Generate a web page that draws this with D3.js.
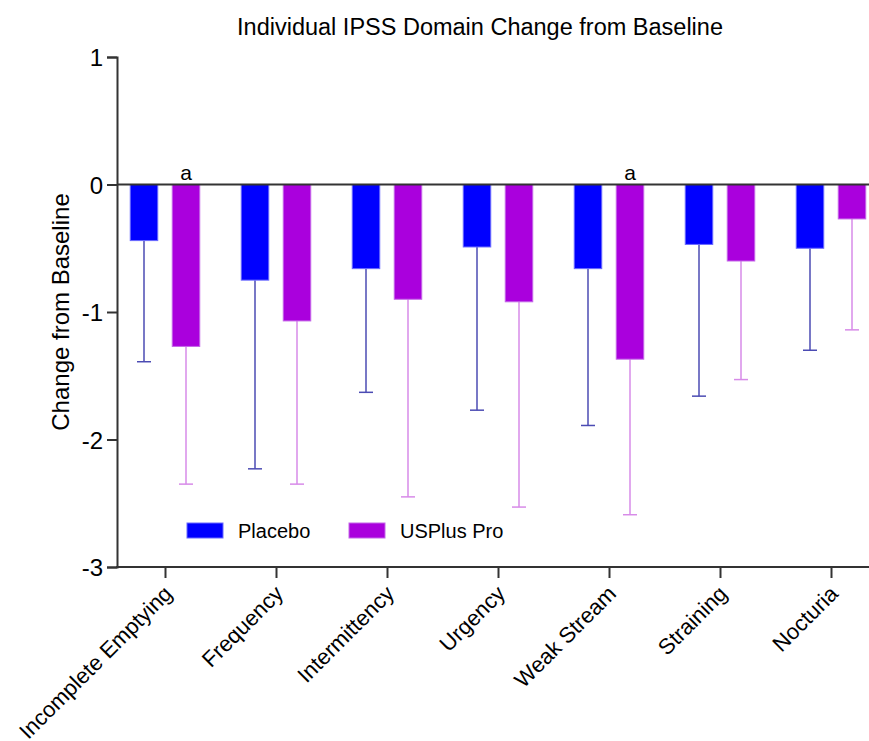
<!DOCTYPE html>
<html>
<head>
<meta charset="utf-8">
<script src="https://cdn.jsdelivr.net/npm/d3@7"></script>
<style>
  html, body { margin: 0; padding: 0; background: #fff; }
  svg text { font-family: Arial, "Liberation Sans", Helvetica, sans-serif; fill: #000; }
</style>
</head>
<body>
<svg id="chart" width="869" height="741"></svg>
<script>
// data
const domains = ["Incomplete Emptying", "Frequency", "Intermittency", "Urgency", "Weak Stream", "Straining", "Nocturia"];
const groups = ["Placebo", "USPlus Pro"];
const placeboMean = [-0.44, -0.75, -0.66, -0.49, -0.66, -0.47, -0.50];
const placeboSD   = [0.95, 1.48, 0.97, 1.28, 1.23, 1.19, 0.80];
const usplusMean  = [-1.27, -1.07, -0.90, -0.92, -1.37, -0.60, -0.27];
const usplusSD    = [1.08, 1.28, 1.55, 1.61, 1.22, 0.93, 0.87];
const signif      = ["a", "", "", "", "a", "", ""]; // marks over USPlus bars
const yTicks = [1, 0, -1, -2, -3];

const fill = { "Placebo": "#0000ff", "USPlus Pro": "#aa00dd" };
const errCol = { "Placebo": "#4b4bb3", "USPlus Pro": "#d78be8" };
const edge = { "Placebo": "#6a6aff", "USPlus Pro": "#c466e8" };

const svg = d3.select("#chart");
const mLeft = 117, mRight = 869, mTop = 57, mBottom = 567;

const y = d3.scaleLinear().domain([-3, 1]).range([mBottom, mTop]);
const x = d3.scalePoint().domain(domains).range([165, 831]);
const barW = 27.5, off = 21;

const rows = domains.map((d, i) => ({
  domain: d,
  vals: [
    { g: "Placebo", m: placeboMean[i], sd: placeboSD[i], dx: -off },
    { g: "USPlus Pro", m: usplusMean[i], sd: usplusSD[i], dx: off }
  ],
  sig: signif[i]
}));

// title
svg.append("text")
  .attr("x", 480).attr("y", 35)
  .attr("text-anchor", "middle")
  .style("font-size", "23.5px")
  .text("Individual IPSS Domain Change from Baseline");

// y axis label
svg.append("text")
  .attr("transform", "translate(69," + y(-1) + ") rotate(-90)")
  .attr("text-anchor", "middle")
  .style("font-size", "24px")
  .text("Change from Baseline");

// bars + error bars
const grp = svg.append("g").selectAll("g").data(rows).join("g")
  .attr("transform", d => "translate(" + x(d.domain) + ",0)");

const bar = grp.selectAll("g.b").data(d => d.vals).join("g").attr("class", "b");

// error bar (down only)
bar.append("line")
  .attr("x1", d => d.dx).attr("x2", d => d.dx)
  .attr("y1", d => y(d.m)).attr("y2", d => y(d.m - d.sd))
  .attr("stroke", d => errCol[d.g]).attr("stroke-width", 1.5);
bar.append("line")
  .attr("x1", d => d.dx - 7).attr("x2", d => d.dx + 7)
  .attr("y1", d => y(d.m - d.sd)).attr("y2", d => y(d.m - d.sd))
  .attr("stroke", d => errCol[d.g]).attr("stroke-width", 1.5);

bar.append("rect")
  .attr("x", d => d.dx - barW / 2)
  .attr("width", barW)
  .attr("y", y(0))
  .attr("height", d => y(d.m) - y(0))
  .attr("fill", d => fill[d.g])
  .attr("stroke", d => edge[d.g]).attr("stroke-width", 1);

// significance marks
grp.filter(d => d.sig).append("text")
  .attr("x", off).attr("y", y(0) - 5)
  .attr("text-anchor", "middle")
  .style("font-size", "21px")
  .text(d => d.sig);

// zero line
svg.append("line")
  .attr("x1", mLeft).attr("x2", mRight)
  .attr("y1", y(0)).attr("y2", y(0))
  .attr("stroke", "#333").attr("stroke-width", 2);

// y axis
const yAxis = svg.append("g")
  .attr("transform", "translate(" + mLeft + ",0)")
  .call(d3.axisLeft(y).tickValues(yTicks).tickFormat(d => String(d)).tickSize(10).tickPadding(4));
yAxis.select(".domain").attr("stroke", "#333").attr("stroke-width", 2);
yAxis.selectAll(".tick line").attr("stroke", "#333").attr("stroke-width", 2);
yAxis.selectAll(".tick text").style("font-size", "24px").attr("fill", "#000")
  .attr("dy", "0.36em");

// x axis
const xAxis = svg.append("g")
  .attr("transform", "translate(0," + mBottom + ")")
  .call(d3.axisBottom(x).tickSize(11).tickSizeOuter(0).tickPadding(6));
xAxis.select(".domain").remove();
xAxis.append("line")
  .attr("x1", mLeft - 1).attr("x2", mRight)
  .attr("stroke", "#333").attr("stroke-width", 2);
xAxis.selectAll(".tick line").attr("stroke", "#333").attr("stroke-width", 2);
xAxis.selectAll(".tick text")
  .style("font-size", "22px").attr("fill", "#000")
  .attr("text-anchor", "end")
  .attr("dy", 0)
  .attr("transform", "translate(-4,16) rotate(-45)");

// legend
const leg = svg.append("g").selectAll("g").data(groups).join("g")
  .attr("transform", (d, i) => "translate(" + (187 + i * 162) + ",523)");
leg.append("rect")
  .attr("width", 36).attr("height", 15)
  .attr("fill", d => fill[d]).attr("stroke", d => edge[d]);
leg.append("text")
  .attr("x", 51).attr("y", 15)
  .style("font-size", "20px")
  .text(d => d);
</script>
</body>
</html>
